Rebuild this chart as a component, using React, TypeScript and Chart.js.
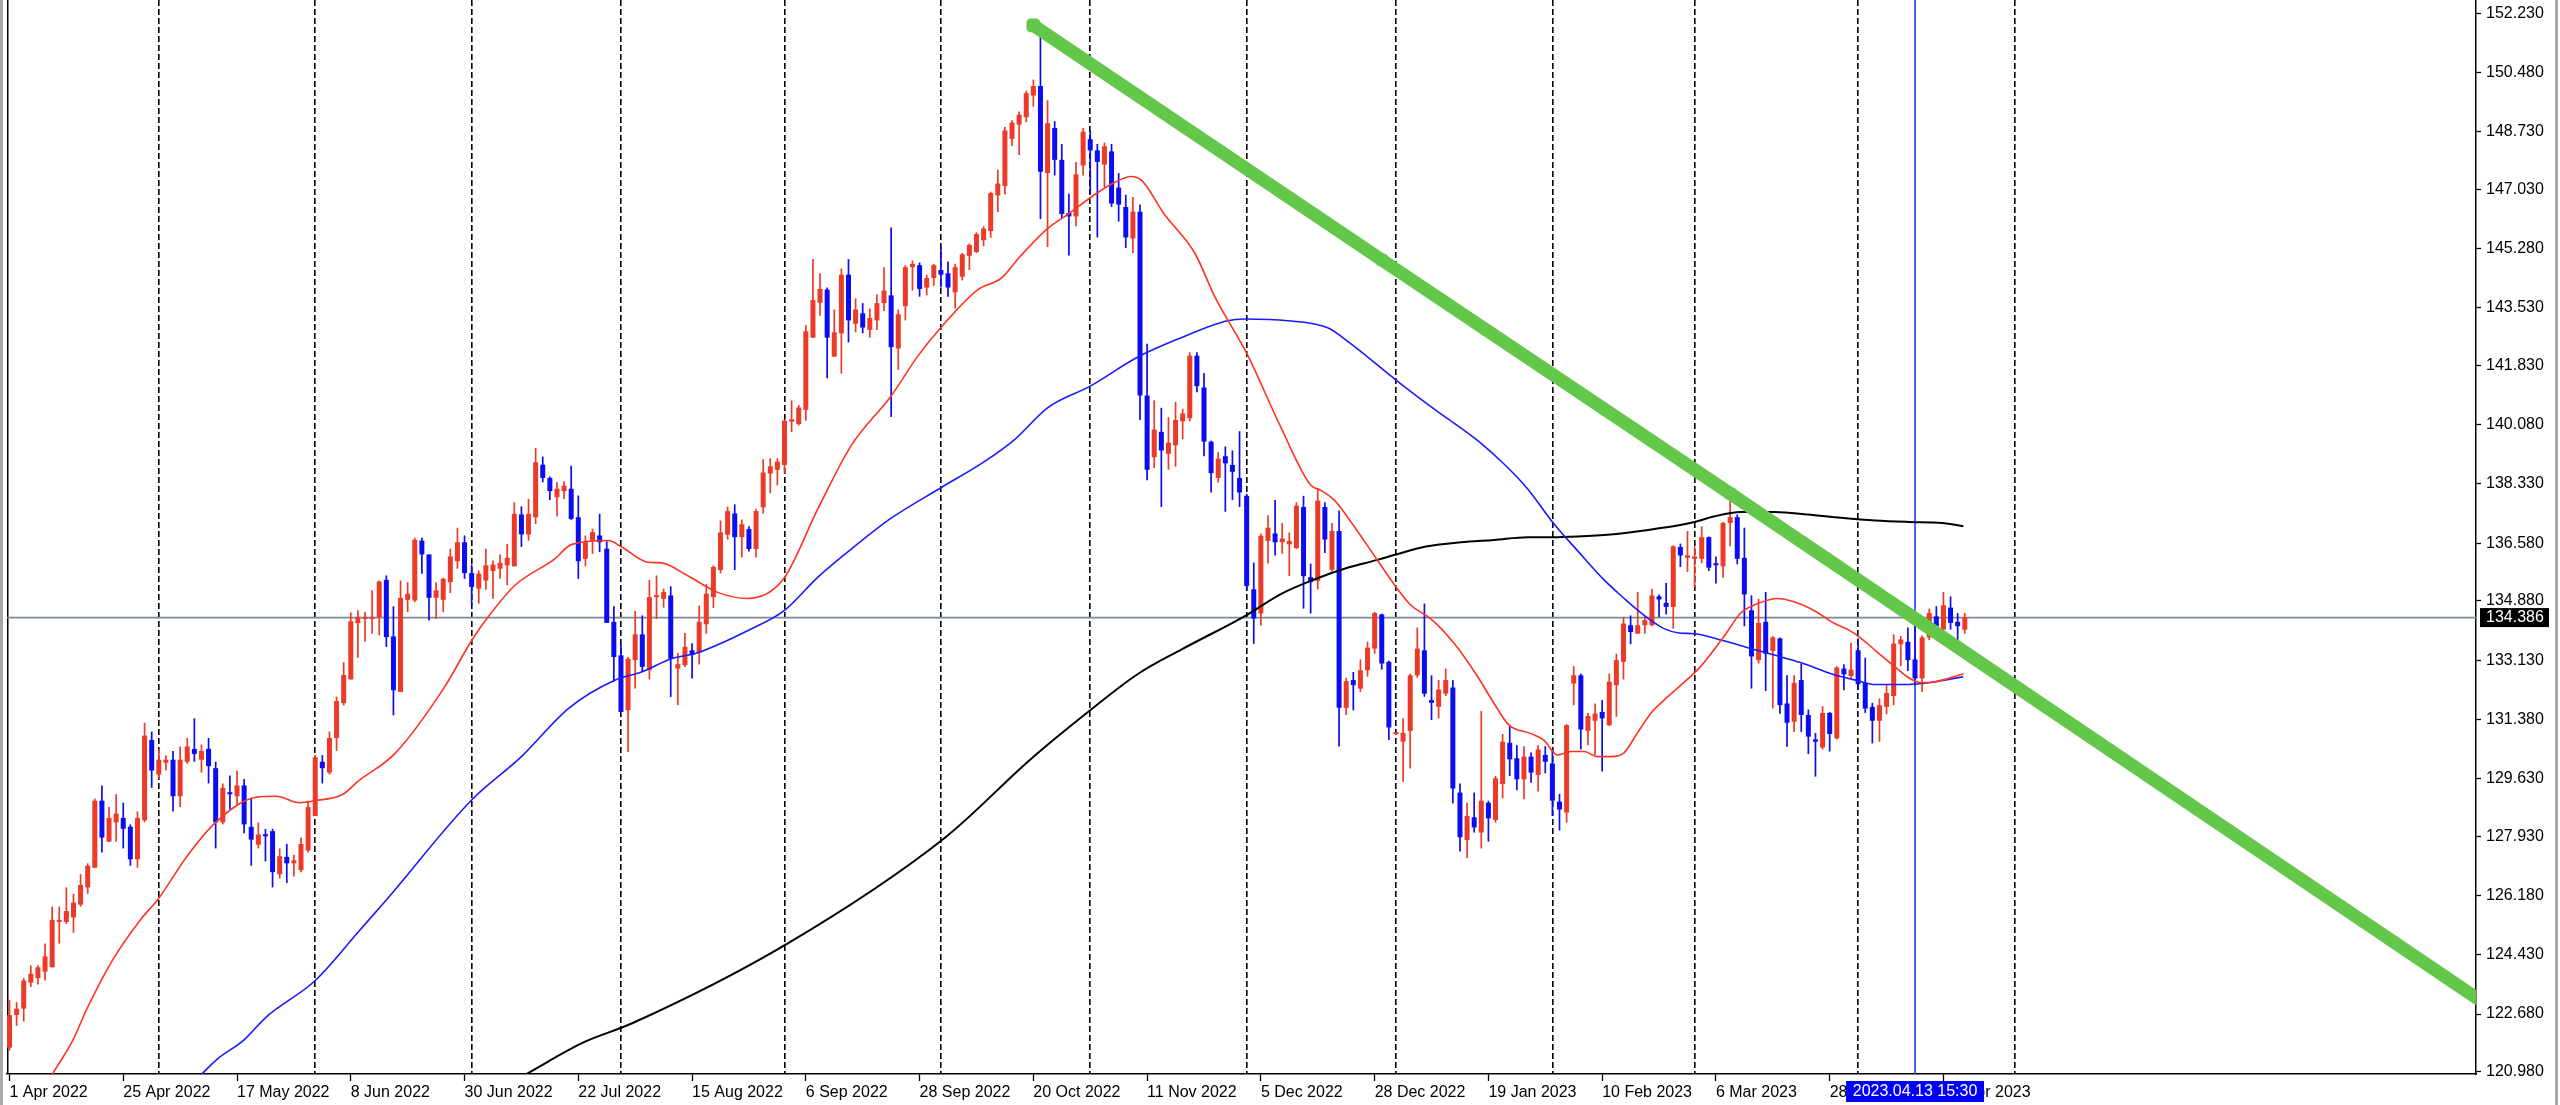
import { useEffect, useRef } from 'react';
import { Chart, registerables } from 'chart.js';

Chart.register(...registerables);

// daily candles, bar 0 = 1 Apr 2022
const OPEN = [
  121.69, 122.65, 122.84, 123.61, 123.74, 123.93, 124.06, 125.40, 125.40, 125.53,
  125.91, 126.42, 127.00, 128.98, 127.77, 128.34, 128.47, 128.21, 127.25, 128.40,
  130.77, 129.75, 130.10, 130.19, 129.11, 130.13, 130.51, 130.19, 130.51, 129.94,
  128.34, 129.23, 129.11, 129.43, 128.21, 127.68, 127.98, 128.08, 126.81, 127.32,
  127.13, 126.93, 127.51, 128.53, 130.13, 129.81, 130.83, 131.86, 132.56, 134.22,
  134.35, 134.35, 134.40, 135.50, 133.83, 132.19, 134.91, 134.89, 136.66, 136.25,
  134.97, 134.91, 135.43, 136.05, 136.61, 135.70, 135.24, 135.48, 135.76, 135.83,
  135.93, 135.90, 137.43, 136.84, 137.35, 138.90, 138.51, 137.94, 138.12, 138.19,
  137.35, 136.12, 136.66, 136.81, 136.42, 134.26, 133.27, 131.65, 133.13, 133.89,
  132.83, 134.99, 134.94, 135.04, 132.88, 132.98, 133.42, 133.35, 134.19, 134.99,
  135.79, 136.83, 137.46, 136.76, 137.00, 136.41, 137.64, 138.64, 138.75, 138.89,
  140.17, 140.10, 140.52, 142.65, 143.68, 144.07, 142.09, 142.78, 144.51, 143.06,
  143.37, 142.88, 143.16, 143.67, 143.90, 142.33, 143.58, 144.73, 144.79, 144.13,
  144.41, 144.65, 144.55, 143.99, 144.45, 145.07, 145.18, 145.53, 145.80, 146.85,
  147.13, 148.52, 148.94, 149.16, 149.80, 150.08, 147.51, 148.84, 147.90, 146.33,
  146.23, 147.73, 148.51, 148.18, 147.76, 148.15, 147.08, 146.51, 145.58, 146.37,
  140.94, 139.12, 139.87, 139.22, 139.47, 140.18, 140.27, 142.12, 141.18, 139.58,
  138.51, 139.15, 138.89, 138.51, 137.98, 135.22, 134.51, 136.65, 136.87, 136.61,
  136.55, 136.44, 137.65, 135.58, 135.47, 137.65, 135.80, 136.94, 131.72, 132.54,
  132.29, 132.83, 133.47, 134.48, 133.08, 130.95, 130.72, 131.04, 132.68, 133.42,
  131.95, 131.75, 132.14, 132.32, 129.22, 127.82, 128.49, 128.04, 128.92, 128.41,
  129.47, 130.69, 130.23, 129.61, 130.28, 129.74, 130.33, 130.08, 128.95, 128.63,
  132.44, 132.68, 131.04, 131.34, 131.60, 131.21, 132.39, 133.08, 134.16, 133.91,
  134.16, 134.16, 135.01, 134.82, 134.70, 136.47, 136.15, 136.12, 136.12, 136.76,
  135.99, 135.90, 137.18, 137.35, 136.15, 134.60, 133.13, 134.26, 133.40, 133.77,
  131.85, 131.31, 132.54, 131.51, 130.79, 130.55, 131.57, 130.82, 132.88, 132.66,
  133.42, 132.46, 131.75, 131.34, 131.75, 132.07, 133.60, 133.67, 133.15, 132.59,
  133.80, 134.42, 134.03, 134.68, 134.26, 134.03,
];

const HIGH = [
  123.10, 123.03, 123.74, 124.12, 124.12, 124.76, 125.85, 125.85, 126.42, 126.23,
  126.81, 127.13, 129.04, 129.43, 128.79, 129.17, 128.92, 128.28, 128.66, 131.28,
  131.02, 130.51, 130.32, 130.45, 130.58, 130.83, 131.41, 130.64, 130.83, 130.13,
  129.49, 129.72, 129.87, 129.62, 129.04, 128.34, 128.15, 128.15, 127.57, 127.70,
  127.38, 127.89, 128.98, 130.32, 130.32, 131.02, 132.05, 133.07, 134.54, 134.60,
  134.55, 135.19, 135.48, 135.63, 134.72, 135.48, 135.43, 136.74, 136.74, 136.25,
  135.43, 135.56, 136.42, 137.04, 136.81, 135.95, 135.78, 136.42, 136.07, 136.25,
  136.56, 137.79, 137.67, 137.89, 139.39, 139.14, 138.55, 138.38, 138.41, 138.87,
  137.99, 136.81, 137.01, 137.45, 136.64, 134.72, 133.60, 133.22, 134.58, 134.45,
  135.50, 135.63, 135.24, 135.31, 133.34, 133.93, 133.63, 134.74, 135.37, 135.93,
  137.25, 137.66, 137.73, 137.28, 137.08, 137.60, 139.06, 139.09, 139.09, 140.24,
  140.80, 140.66, 143.02, 144.97, 144.55, 144.13, 143.48, 144.69, 144.97, 143.81,
  143.67, 143.51, 143.93, 144.73, 145.90, 143.48, 144.79, 144.93, 144.87, 144.51,
  144.83, 145.32, 144.90, 144.83, 145.15, 145.43, 145.76, 145.94, 146.96, 147.61,
  148.87, 149.07, 149.33, 149.94, 150.27, 151.94, 149.66, 149.04, 148.37, 146.90,
  147.84, 148.84, 148.76, 148.37, 148.41, 148.37, 147.51, 146.87, 146.80, 146.58,
  142.47, 140.80, 140.58, 140.30, 140.75, 140.55, 142.22, 142.22, 141.61, 139.61,
  139.27, 139.44, 139.32, 139.89, 138.04, 136.01, 136.87, 137.41, 137.86, 137.18,
  136.90, 137.79, 137.98, 135.98, 138.18, 137.79, 137.18, 137.55, 132.61, 132.78,
  133.15, 133.67, 134.55, 134.50, 133.11, 130.97, 131.41, 132.73, 134.09, 134.80,
  132.68, 132.54, 132.88, 132.54, 129.49, 128.92, 129.22, 131.63, 128.98, 129.71,
  130.95, 131.21, 130.62, 130.59, 130.40, 130.62, 130.59, 130.47, 129.18, 131.24,
  132.95, 132.73, 131.57, 131.85, 131.95, 132.73, 133.32, 134.40, 134.45, 135.14,
  134.45, 135.24, 135.07, 135.41, 136.52, 136.57, 136.94, 136.49, 137.08, 136.78,
  136.19, 137.21, 137.92, 137.43, 137.04, 135.04, 134.94, 135.14, 133.84, 133.80,
  132.68, 132.68, 133.03, 131.67, 130.98, 131.77, 131.60, 132.95, 133.01, 133.64,
  133.77, 133.20, 131.87, 132.00, 132.39, 133.89, 133.84, 134.09, 134.31, 133.86,
  134.65, 134.72, 135.14, 135.01, 134.52, 134.52,
];

const LOW = [
  121.60, 122.33, 122.46, 123.48, 123.55, 123.67, 124.06, 124.76, 125.34, 125.08,
  125.85, 126.23, 127.00, 127.45, 127.77, 127.77, 127.57, 127.06, 127.00, 128.34,
  129.36, 129.62, 129.87, 128.66, 128.79, 130.07, 130.13, 129.81, 129.49, 127.57,
  128.28, 128.72, 128.85, 128.02, 127.06, 127.57, 127.19, 126.42, 126.68, 126.55,
  126.74, 126.87, 127.45, 128.53, 129.49, 129.75, 130.45, 131.79, 132.56, 133.20,
  133.67, 133.91, 133.86, 133.52, 131.50, 132.19, 134.55, 134.84, 135.68, 134.30,
  134.35, 134.55, 135.11, 135.83, 135.53, 134.75, 134.80, 135.21, 134.94, 135.53,
  135.34, 135.90, 136.47, 136.66, 137.15, 138.38, 137.86, 137.37, 137.89, 137.27,
  135.53, 135.90, 136.27, 136.32, 134.23, 132.49, 131.60, 130.42, 132.29, 132.78,
  132.56, 134.35, 134.68, 132.04, 131.80, 132.93, 132.59, 133.00, 133.91, 134.67,
  135.69, 136.69, 135.79, 136.16, 136.34, 136.16, 137.46, 138.06, 138.29, 138.64,
  139.86, 140.06, 140.20, 142.65, 143.30, 141.45, 142.09, 141.59, 142.51, 142.81,
  142.78, 142.65, 142.88, 143.44, 140.31, 141.70, 143.16, 144.04, 143.86, 143.90,
  144.18, 144.13, 143.86, 143.51, 144.34, 144.65, 145.15, 145.35, 145.60, 146.36,
  146.88, 148.31, 148.04, 149.01, 149.47, 146.15, 145.33, 147.44, 146.18, 145.08,
  145.94, 147.44, 146.90, 145.61, 147.08, 146.51, 146.08, 145.30, 145.15, 140.22,
  138.44, 138.80, 137.65, 138.75, 138.84, 139.65, 140.18, 141.04, 139.15, 138.08,
  138.37, 137.51, 137.86, 137.65, 135.22, 133.61, 134.15, 135.98, 136.22, 136.27,
  135.61, 136.41, 134.65, 134.51, 135.22, 136.29, 135.75, 130.58, 131.51, 131.65,
  132.19, 132.64, 133.32, 132.85, 130.77, 130.93, 129.54, 129.93, 132.61, 132.05,
  131.36, 131.41, 132.07, 128.90, 127.48, 127.28, 128.04, 127.57, 127.77, 128.33,
  129.05, 129.71, 129.29, 129.02, 129.51, 129.25, 129.79, 128.53, 128.10, 128.33,
  131.80, 130.49, 130.62, 130.33, 129.84, 131.18, 131.46, 132.56, 133.60, 133.91,
  133.91, 134.13, 134.40, 134.48, 134.06, 135.88, 135.73, 135.29, 135.99, 135.76,
  135.39, 135.56, 136.49, 135.96, 134.13, 132.29, 133.03, 132.22, 131.70, 131.55,
  130.57, 131.01, 131.01, 130.36, 129.69, 130.49, 130.43, 130.79, 132.24, 132.59,
  132.26, 131.57, 130.67, 130.72, 131.53, 131.80, 132.95, 132.81, 132.39, 132.19,
  133.72, 133.86, 133.96, 134.03, 133.54, 133.91,
];

const CLOSE = [
  122.65, 122.84, 123.67, 123.87, 124.06, 124.38, 125.46, 125.46, 125.72, 125.97,
  126.49, 127.06, 128.98, 127.89, 128.47, 128.60, 128.15, 127.25, 128.47, 130.90,
  129.87, 130.19, 130.19, 129.11, 130.19, 130.58, 130.36, 130.45, 130.00, 128.34,
  129.36, 129.17, 129.43, 128.28, 127.83, 127.98, 127.93, 126.87, 127.34, 127.13,
  127.22, 127.70, 128.79, 130.26, 129.94, 130.83, 131.92, 132.69, 134.28, 134.41,
  134.40, 134.40, 135.45, 133.81, 132.24, 134.97, 135.09, 136.68, 136.25, 134.97,
  135.19, 135.53, 136.19, 136.61, 135.70, 135.29, 135.68, 135.93, 135.95, 136.00,
  136.15, 137.45, 136.84, 137.45, 138.97, 138.51, 138.12, 138.19, 138.28, 137.30,
  136.05, 136.61, 136.91, 136.61, 134.23, 133.22, 131.60, 133.17, 133.89, 132.93,
  134.99, 135.04, 135.14, 133.17, 133.01, 133.52, 133.28, 134.26, 135.09, 135.88,
  136.90, 137.53, 136.76, 137.14, 136.41, 137.53, 138.67, 138.85, 138.99, 140.20,
  140.24, 140.59, 142.84, 143.76, 144.09, 142.65, 142.81, 144.51, 143.16, 143.48,
  142.95, 143.23, 143.67, 144.04, 142.37, 143.34, 144.73, 144.83, 144.09, 144.41,
  144.79, 144.51, 144.13, 144.73, 145.11, 145.39, 145.71, 145.87, 146.92, 147.20,
  148.77, 149.00, 149.23, 149.87, 150.08, 147.55, 148.98, 147.90, 146.30, 146.23,
  147.47, 148.73, 148.18, 147.84, 148.30, 146.61, 146.58, 145.61, 146.37, 140.94,
  138.75, 139.94, 139.32, 139.55, 140.22, 140.41, 142.12, 141.22, 139.58, 138.65,
  139.08, 138.94, 138.69, 138.08, 135.32, 134.36, 136.80, 137.04, 136.61, 136.72,
  136.65, 137.69, 135.61, 135.44, 137.84, 136.69, 136.94, 131.72, 132.51, 132.39,
  132.83, 133.50, 134.52, 133.03, 131.14, 130.95, 130.98, 132.68, 133.47, 132.14,
  131.87, 132.26, 132.54, 129.34, 127.90, 128.53, 128.19, 128.98, 128.46, 129.64,
  130.72, 130.20, 129.61, 130.28, 129.81, 130.49, 130.13, 128.98, 128.72, 131.21,
  132.68, 131.08, 131.48, 131.55, 131.41, 132.49, 133.13, 134.21, 133.96, 134.16,
  134.31, 135.04, 134.92, 134.70, 136.49, 136.22, 136.22, 136.19, 136.76, 135.86,
  135.93, 137.18, 137.35, 136.12, 135.07, 133.24, 134.23, 133.32, 133.80, 131.80,
  131.28, 132.46, 131.51, 130.87, 130.72, 131.57, 130.95, 132.91, 132.71, 132.85,
  132.42, 131.70, 131.34, 131.80, 132.16, 133.62, 133.74, 133.13, 132.59, 133.80,
  134.52, 134.13, 134.75, 134.23, 134.13, 134.40,
];

// moving averages: [bar, price]
const MA_RED: [number, number][] = [
  [6, 120.9], [8.9, 121.9], [10.9, 122.84], [14.6, 124.31], [18.4, 125.46], [21, 126.1],
  [24.9, 127.32], [29, 128.34], [34.7, 129.08], [37.5, 129.11], [40.8, 128.92], [43, 128.98],
  [46.9, 129.17], [49, 129.55], [54.2, 130.37], [61.2, 132.34], [65, 133.71], [67.3, 134.4],
  [71.1, 135.34], [76.7, 136.12], [79, 136.54], [84.2, 136.66], [86.1, 136.47], [89.8, 136.02],
  [91.7, 136.0], [95.4, 135.62], [99.6, 135.13], [103.8, 134.95], [108.8, 135.51], [113.7, 137.6],
  [118.4, 139.47], [124, 140.93], [127.8, 142.12], [131, 142.95], [136.2, 144.07], [139.5, 144.41],
  [142.1, 145.04], [146, 145.87], [148.9, 146.3], [152.6, 146.87], [155.4, 147.23], [157.7, 147.41],
  [159.2, 147.3], [162.4, 146.3], [166.7, 145.15], [169.5, 143.87], [174.1, 142.15], [178.8, 140.01],
  [183, 138.3], [184.4, 138.15], [186.3, 137.86], [188.2, 137.35], [192.4, 136.08], [195, 135.29],
  [197.1, 134.75], [199.2, 134.45], [200.4, 134.26], [203.2, 133.62], [206.5, 132.64], [208.8, 131.85],
  [210.9, 131.21], [214, 130.96], [215.8, 130.77], [217.7, 130.33], [219.6, 130.43], [221.5, 130.43],
  [223.3, 130.28], [225.2, 130.28], [227.1, 130.4], [228.9, 130.96], [230.8, 131.55], [232.7, 131.95],
  [234.8, 132.34], [237.8, 132.93], [241.1, 133.82], [243.5, 134.52], [245.9, 134.8], [248.7, 134.95],
  [251, 134.85], [253.9, 134.58], [256.7, 134.21], [258.6, 134.03], [260.5, 133.76], [262.4, 133.42],
  [265.2, 132.93], [267.1, 132.61], [269, 132.46], [270.8, 132.49], [272.7, 132.59], [274.8, 132.73],
];

const MA_BLUE: [number, number][] = [
  [27, 120.9], [29.1, 121.33], [33, 121.92], [36.1, 122.59], [43, 123.67], [49.2, 125.14],
  [53, 126.05], [65, 129.0], [72, 130.28], [78.6, 131.7], [85.2, 132.54], [88.9, 132.78],
  [93.1, 133.17], [96.8, 133.35], [104.3, 134.05], [109, 134.6], [113.7, 135.58], [118.4, 136.41],
  [124, 137.32], [131, 138.22], [137.1, 138.99], [141.4, 139.65], [146, 140.58], [152, 141.22],
  [158.7, 142.08], [164.8, 142.65], [171.3, 143.15], [173.7, 143.2], [179.8, 143.15], [185.4, 142.94],
  [188.4, 142.51], [195, 141.4], [200, 140.6], [206.5, 139.61], [210.2, 138.92], [213.5, 138.19],
  [217, 137.21], [220.5, 136.37], [224.3, 135.49], [227.1, 134.95], [228.9, 134.62], [230.8, 134.31],
  [232.7, 134.06], [234.8, 133.93], [237, 133.91], [241.1, 133.7], [244.9, 133.47], [248.2, 133.28],
  [252, 133.05], [256.2, 132.73], [260, 132.52], [262.4, 132.41], [267.1, 132.41], [269.9, 132.46],
  [272.7, 132.56], [274.8, 132.64],
];

const MA_BLACK: [number, number][] = [
  [72.6, 120.9], [80.8, 121.85], [87.5, 122.4], [109.4, 124.76], [131.7, 127.91], [143.7, 130.22],
  [152, 131.65], [158.7, 132.72], [164.8, 133.44], [174, 134.46], [178.8, 135.08], [183.5, 135.51],
  [188.4, 135.87], [192.4, 136.09], [195, 136.25], [199.4, 136.49], [204.1, 136.61], [208.8, 136.68],
  [213.5, 136.76], [217, 136.76], [220.5, 136.78], [225.2, 136.84], [229.9, 136.96], [234.8, 137.11],
  [237, 137.21], [239.7, 137.37], [243.5, 137.5], [248.2, 137.5], [252.9, 137.43], [257.6, 137.33],
  [262.4, 137.25], [267.1, 137.21], [271.8, 137.18], [274.8, 137.08],
];

// trend line anchors (start, middle, end) and where the ray leaves the chart
const TREND: [number, number][] = [[144, 151.87], [193, 144.95], [242, 138.05], [347, 123.15]];

const DATE_BARS = [0, 16, 32, 48, 64, 80, 96, 112, 128, 144, 160, 176, 192, 208, 224, 240, 256, 272];
const DATE_LABELS = [
  '1 Apr 2022', '25 Apr 2022', '17 May 2022', '8 Jun 2022', '30 Jun 2022', '22 Jul 2022',
  '15 Aug 2022', '6 Sep 2022', '28 Sep 2022', '20 Oct 2022', '11 Nov 2022', '5 Dec 2022',
  '28 Dec 2022', '19 Jan 2023', '10 Feb 2023', '6 Mar 2023', '28 Mar 2023', '19 Apr 2023',
];
const MONTH_BARS = [21, 43, 65, 86, 109, 131, 152, 174, 195, 217, 237, 260, 282];
const PRICE_TICKS = [
  152.23, 150.48, 148.73, 147.03, 145.28, 143.53, 141.83, 140.08, 138.33, 136.58,
  134.88, 133.13, 131.38, 129.63, 127.93, 126.18, 124.43, 122.68, 120.98,
];

const BID = 134.386;
const CROSS_BAR = 268;
const CROSS_LABEL = '2023.04.13 15:30';

const X_MIN = -0.35;
const X_MAX = 346.9;
const Y_MIN = 120.91;
const Y_MAX = 152.62;

const BULL = '#ec3a28';
const BEAR = '#0c0cf2';
const FONT = '"Liberation Sans", Arial, sans-serif';

const pts = (a: [number, number][]) => a.map(([x, y]) => ({ x, y }));

const overlay = {
  id: 'mtOverlay',
  beforeDraw(chart: any) {
    const { ctx, chartArea: a, width, height } = chart;
    ctx.save();
    ctx.fillStyle = '#ffffff';
    ctx.fillRect(0, 0, width, height);
    ctx.fillStyle = '#a8a8a8';
    ctx.fillRect(0, 0, 3, height);
    ctx.fillRect(width - 5, 0, 3, height);
    ctx.strokeStyle = '#000';
    ctx.lineWidth = 1.5;
    ctx.beginPath();
    ctx.moveTo(a.left + 0.75, 0);
    ctx.lineTo(a.left + 0.75, a.bottom);
    ctx.stroke();
    ctx.restore();
  },
  beforeDatasetsDraw(chart: any) {
    const { ctx, chartArea: a, scales } = chart;
    const y = scales.y.getPixelForValue(BID);
    const x = scales.x.getPixelForValue(CROSS_BAR);
    ctx.save();
    ctx.strokeStyle = '#7d8b98';
    ctx.lineWidth = 1.6;
    ctx.beginPath();
    ctx.moveTo(a.left, y);
    ctx.lineTo(a.right, y);
    ctx.stroke();
    ctx.strokeStyle = '#1f3cff';
    ctx.lineWidth = 1.6;
    ctx.beginPath();
    ctx.moveTo(x, a.top);
    ctx.lineTo(x, a.bottom);
    ctx.stroke();
    ctx.restore();
  },
  afterDraw(chart: any) {
    const { ctx, chartArea: a, scales } = chart;
    const y = scales.y.getPixelForValue(BID);
    const x = scales.x.getPixelForValue(CROSS_BAR);
    ctx.save();
    ctx.font = `16px ${FONT}`;
    ctx.textBaseline = 'middle';
    ctx.fillStyle = '#000';
    ctx.fillRect(a.right + 4, y - 9.5, 69, 19);
    ctx.fillStyle = '#fff';
    ctx.textAlign = 'left';
    ctx.fillText(BID.toFixed(3), a.right + 10, y + 0.5);
    ctx.fillStyle = '#0000ff';
    ctx.fillRect(x - 69, a.bottom + 7, 138, 21);
    ctx.fillStyle = '#fff';
    ctx.textAlign = 'center';
    ctx.fillText(CROSS_LABEL, x, a.bottom + 18);
    ctx.restore();
  },
};

export default function App() {
  const canvasRef = useRef<HTMLCanvasElement>(null);
  const chartRef = useRef<Chart | null>(null);

  useEffect(() => {
    document.body.style.margin = '0';
    document.body.style.overflow = 'hidden';
    if (!canvasRef.current) return;
    if (chartRef.current) chartRef.current.destroy();

    const candleColors = OPEN.map((o, i) => (CLOSE[i] >= o ? BULL : BEAR));

    chartRef.current = new Chart(canvasRef.current, {
      type: 'bar',
      data: {
        datasets: [
          {
            type: 'line',
            data: pts(TREND),
            borderColor: '#63c84a',
            borderWidth: 13,
            borderCapStyle: 'round',
            pointRadius: [8, 7, 7, 0],
            pointStyle: 'rectRounded',
            pointBackgroundColor: '#63c84a',
            pointBorderWidth: 0,
            order: 0,
            clip: 0,
          } as any,
          {
            type: 'line',
            data: pts(MA_RED),
            borderColor: '#ff3322',
            borderWidth: 1.6,
            pointRadius: 0,
            cubicInterpolationMode: 'monotone',
            order: 1,
            clip: 0,
          } as any,
          {
            type: 'line',
            data: pts(MA_BLUE),
            borderColor: '#1a1aff',
            borderWidth: 1.6,
            pointRadius: 0,
            cubicInterpolationMode: 'monotone',
            order: 1,
            clip: 0,
          } as any,
          {
            type: 'line',
            data: pts(MA_BLACK),
            borderColor: '#000000',
            borderWidth: 2,
            pointRadius: 0,
            cubicInterpolationMode: 'monotone',
            order: 1,
            clip: 0,
          } as any,
          {
            type: 'bar',
            data: OPEN.map((o, i) => ({ x: i, y: [o, CLOSE[i]] })),
            backgroundColor: candleColors,
            grouped: false,
            barThickness: 5,
            maxBarThickness: 5,
            minBarLength: 2,
            borderWidth: 0,
            inflateAmount: 0,
            order: 2,
            clip: 0,
          } as any,
          {
            type: 'bar',
            data: LOW.map((l, i) => ({ x: i, y: [l, HIGH[i]] })),
            backgroundColor: candleColors,
            grouped: false,
            barThickness: 1.7,
            maxBarThickness: 1.7,
            borderWidth: 0,
            inflateAmount: 0,
            order: 3,
            clip: 0,
          } as any,
        ],
      },
      options: {
        animation: false,
        responsive: false,
        devicePixelRatio: 1,
        events: [],
        layout: { padding: { left: 7, top: 0, right: 0, bottom: 0 }, autoPadding: false },
        plugins: { legend: { display: false }, tooltip: { enabled: false } },
        scales: {
          x: {
            type: 'linear',
            position: 'bottom',
            offset: false,
            min: X_MIN,
            max: X_MAX,
            afterBuildTicks: (s: any) => {
              s.ticks = DATE_BARS.map((v) => ({ value: v }));
            },
            afterFit: (s: any) => {
              s.height = 31;
              s.paddingLeft = 0;
              s.paddingRight = 0;
            },
            ticks: {
              callback: (_v: any, i: number) => DATE_LABELS[i],
              align: 'start',
              padding: 2,
              autoSkip: false,
              maxRotation: 0,
              color: '#000',
              font: { family: FONT, size: 16 },
            },
            grid: { offset: false, drawOnChartArea: false, drawTicks: true, tickLength: 7, tickColor: '#000', tickWidth: 1.3 },
            border: { display: true, color: '#000', width: 1.5 },
          },
          xg: {
            type: 'linear',
            axis: 'x',
            position: 'bottom',
            offset: false,
            min: X_MIN,
            max: X_MAX,
            afterBuildTicks: (s: any) => {
              s.ticks = MONTH_BARS.map((v) => ({ value: v }));
            },
            afterFit: (s: any) => {
              s.height = 0;
              s.paddingLeft = 0;
              s.paddingRight = 0;
            },
            ticks: { display: false },
            grid: { offset: false, drawOnChartArea: true, drawTicks: false, color: '#000', lineWidth: 1.6 },
            border: { display: false, dash: [6, 3] },
          },
          y: {
            type: 'linear',
            position: 'right',
            min: Y_MIN,
            max: Y_MAX,
            afterBuildTicks: (s: any) => {
              s.ticks = PRICE_TICKS.map((v) => ({ value: v }));
            },
            afterFit: (s: any) => {
              s.width = 84;
              s.paddingTop = 0;
              s.paddingBottom = 0;
            },
            ticks: {
              callback: (v: any) => Number(v).toFixed(3),
              padding: 5,
              autoSkip: false,
              color: '#000',
              font: { family: FONT, size: 16 },
            },
            grid: { drawOnChartArea: false, drawTicks: true, tickLength: 5, tickColor: '#000', tickWidth: 1.3 },
            border: { display: true, color: '#000', width: 1.5 },
          },
        },
      } as any,
      plugins: [overlay],
    });

    return () => {
      if (chartRef.current) {
        chartRef.current.destroy();
        chartRef.current = null;
      }
    };
  }, []);

  return (
    <div>
      <canvas ref={canvasRef} width={2560} height={1105} style={{ display: 'block', width: '2560px', height: '1105px' }} />
    </div>
  );
}
